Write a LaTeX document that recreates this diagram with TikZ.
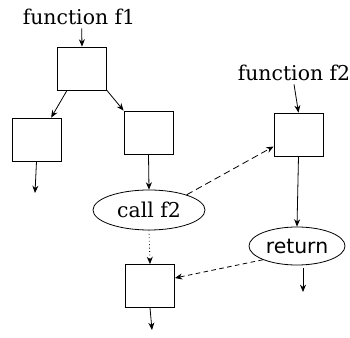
\documentclass[tikz,border=0pt]{standalone}
\usepackage{fontspec}
\setmainfont{DejaVu Serif}
\newfontfamily\retfont{DejaVu Sans}
\usetikzlibrary{arrows.meta,shapes.geometric}
\begin{document}
\begin{tikzpicture}[x=0.75pt,y=-0.75pt,
  every path/.style={line width=0.6pt},
  arr/.style={-{Stealth[length=5.5pt,width=4.5pt]}},
  blk/.style={draw,minimum width=36.75pt,minimum height=32.25pt,inner sep=0pt},
  oval/.style={draw,ellipse,inner sep=0pt},
  lbl/.style={inner sep=0pt,font=\fontsize{15.3}{17}\selectfont}]
\useasboundingbox (0,0) rectangle (350,338);
\node[lbl] (t1) at (79,17) {function f1};
\node[lbl] (t2) at (294,73) {function f2};
\node[blk] (b1) at (82,68.5) {};
\node[blk] (b2) at (36.5,139.5) {};
\node[blk] (b3) at (148.5,132.5) {};
\node[oval,minimum width=84pt,minimum height=30pt,font=\fontsize{15.3}{17}\selectfont] (call) at (149,210) {call f2};
\node[blk] (b4) at (150,286) {};
\node[blk] (f2) at (298.5,134.5) {};
\node[oval,minimum width=72pt,minimum height=28.5pt,font=\retfont\fontsize{15.3}{17}\selectfont] (ret) at (297,246) {return};
\coordinate (o2) at (35,193);
\coordinate (o4) at (152,330);
\coordinate (rs) at (303,268);
\coordinate (o5) at (303,292);
\draw[arr] ([xshift=2pt]t1.south) ++(0,3) -- (b1.north);
\draw[arr] ([xshift=-11.25pt]b1.south) -- ([xshift=11pt]b2.north);
\draw[arr] (b1.south east) -- (b3.north west);
\draw[arr] (b2.south) -- (o2);
\draw[arr] (b3.south) -- (call.north);
\draw[arr,dotted] (call.south) -- (b4.north);
\draw[arr] (b4.south) -- (o4);
\draw[arr] (t2.south) ++(0,3) -- (f2.north);
\draw[arr] (f2.south) -- (ret.north);
\draw[arr] (rs) -- (o5);
\draw[arr,dash pattern=on 5pt off 3pt] (call.22) -- ([yshift=-9pt]f2.west);
\draw[arr,dash pattern=on 3.5pt off 2.5pt] (ret.202) -- ([yshift=6pt]b4.east);
\end{tikzpicture}
\end{document}
